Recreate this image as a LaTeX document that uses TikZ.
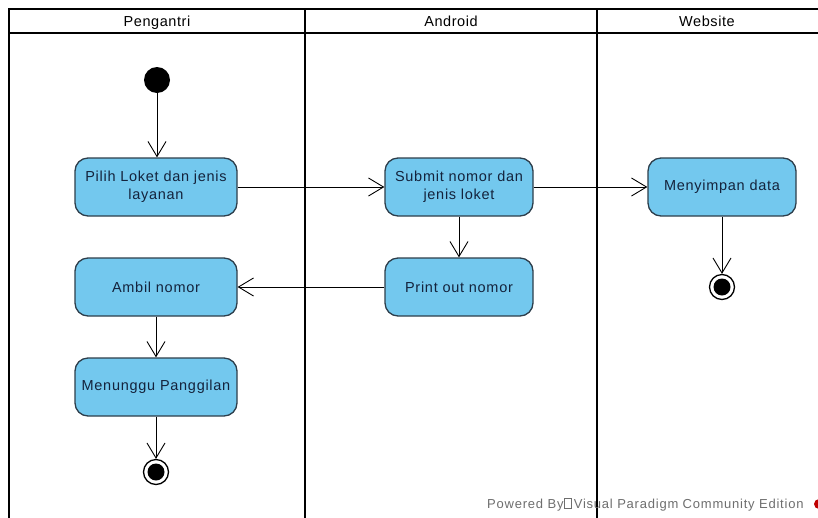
\documentclass[tikz,border=0pt]{standalone}
\usepackage{fontspec}
\setmainfont{Liberation Sans}
\usetikzlibrary{arrows.meta}
\definecolor{actfill}{RGB}{115,200,238}
\definecolor{actdraw}{RGB}{45,62,75}
\definecolor{acttext}{RGB}{20,35,60}
\definecolor{wmgray}{RGB}{110,110,110}
\begin{document}
\begin{tikzpicture}[x=1pt,y=-1pt,
  act/.style={draw=actdraw,line width=1.3pt,fill=actfill,rounded corners=13pt,
    minimum width=162pt,minimum height=58pt,align=center,text=acttext,
    font=\fontsize{14.5}{18}\selectfont\addfontfeatures{LetterSpace=5}},
  actb/.style={act,minimum width=148pt},
  frameline/.style={line width=2.8pt},
  flow/.style={line width=0.9pt,-{Straight Barb[length=15pt,width=18pt,line width=0.9pt]}},
  lane/.style={anchor=base,inner sep=0pt,font=\fontsize{14.5}{16}\selectfont\addfontfeatures{LetterSpace=4}}]
\useasboundingbox (0,0) rectangle (818,517);
\fill[white] (0,0) rectangle (818,517);
% frame
\draw[frameline] (9,519) -- (9,9) -- (820,9);
\draw[frameline] (9,33) -- (820,33);
\draw[frameline] (305,9) -- (305,519);
\draw[frameline] (597,9) -- (597,519);
\node[lane] (h1) at (157,26) {Pengantri};
\node[lane] (h2) at (451,26) {Android};
\node[lane] (h3) at (707,26) {Website};
% nodes
\node[circle,fill=black,minimum size=26pt,inner sep=0pt] (init) at (157,80) {};
\node[act] (pilih) at (156,187) {Pilih Loket dan jenis\\layanan};
\node[actb] (submit) at (459,187) {Submit nomor dan\\jenis loket};
\node[actb] (simpan) at (722,187) {Menyimpan data};
\node[actb] (print) at (459,287) {Print out nomor};
\node[act] (ambil) at (156,287) {Ambil nomor};
\node[act] (tunggu) at (156,387) {Menunggu Panggilan};
\node[circle,draw=black,line width=1.3pt,fill=white,minimum size=25pt,inner sep=0pt] (end1) at (722,287) {};
\fill[black] (end1.center) circle (8.5pt);
\node[circle,draw=black,line width=1.3pt,fill=white,minimum size=25pt,inner sep=0pt] (end2) at (156,472) {};
\fill[black] (end2.center) circle (8.5pt);
% flows
\draw[flow] (init) -- (init |- pilih.north);
\draw[flow] (pilih) -- (submit);
\draw[flow] (submit) -- (simpan);
\draw[flow] (submit) -- (print);
\draw[flow] (simpan) -- (end1);
\draw[flow] (print) -- (ambil);
\draw[flow] (ambil) -- (tunggu);
\draw[flow] (tunggu) -- (end2);
% watermark
\node[anchor=base west,inner sep=0pt,text=wmgray,font=\fontsize{13}{15}\selectfont\addfontfeatures{LetterSpace=6}] (wm) at (487,508)
  {Powered By\tikz[baseline=0pt]\draw[line width=0.6pt] (0.5pt,0pt) rectangle (8pt,10pt);\,Visual Paradigm Community Edition};
\fill[red!75!black] (819,504) circle (5pt);
\end{tikzpicture}
\end{document}
